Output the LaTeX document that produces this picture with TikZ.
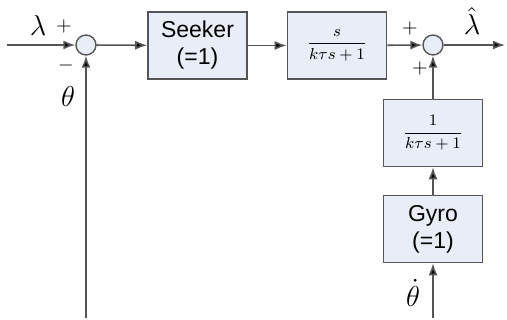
\documentclass[tikz,border=0pt]{standalone}
\usepackage{amsmath}
\usepackage{fontspec}
\newfontfamily\arialf{Liberation Sans}
\usetikzlibrary{arrows.meta}
\definecolor{boxfill}{RGB}{232,237,248}
\definecolor{linec}{RGB}{85,85,85}
\tikzset{
  blk/.style={draw=linec, fill=boxfill, line width=0.8pt, minimum width=49.5pt, minimum height=33.5pt, inner sep=0pt, align=center, font=\arialf\fontsize{11.5}{13.5}\selectfont},
  fracblk/.style={blk, font=\fontsize{8.5}{10}\selectfont},
  sumc/.style={draw=linec, fill=boxfill, circle, line width=0.7pt, minimum size=10pt, inner sep=0pt},
  sig/.style={draw=linec, line width=0.8pt, -{Latex[length=6pt,width=4.5pt,fill=black]}},
  lbl/.style={inner sep=0pt, font=\fontsize{13.5}{15}\selectfont},
  sgn/.style={inner sep=0pt, font=\fontsize{10}{12}\selectfont}
}
\begin{document}
\begin{tikzpicture}[x=0.5pt,y=-0.5pt]
\useasboundingbox (0,0) rectangle (507,320);
\node[sumc] (s1) at (86,45) {};
\node[blk] (seek) at (197.5,45.5) {Seeker\\(=1)};
\node[fracblk] (hp) at (337,45.5) {$\dfrac{s}{k\tau s+1}$};
\node[sumc] (s2) at (433,45) {};
\node[fracblk] (lp) at (433,133) {$\dfrac{1}{k\tau s+1}$};
\node[blk] (gyro) at (433,229) {Gyro\\(=1)};
\coordinate (in) at (7,45);
\coordinate (thb) at (86,318);
\coordinate (out) at (505,45);
\coordinate (tdb) at (433,318);
\draw[sig] (in) -- (s1);
\draw[sig] (thb) -- (s1);
\draw[sig] (s1) -- (seek);
\draw[sig] (seek) -- (hp);
\draw[sig] (hp) -- (s2);
\draw[sig] (s2) -- (out);
\draw[sig] (lp) -- (s2);
\draw[sig] (gyro) -- (lp);
\draw[sig] (tdb) -- (gyro);
\node[lbl] (lam) at (38,26) {$\lambda$};
\node[sgn] (p1) at (64,27) {$+$};
\node[sgn] (m1) at (66,66) {$-$};
\node[lbl] (th) at (68,97) {$\theta$};
\node[sgn] (p2) at (410,29) {$+$};
\node[sgn] (p3) at (420,69) {$+$};
\node[lbl] (lamh) at (472,21) {$\hat{\lambda}$};
\node[lbl] (thd) at (413,293) {$\dot{\theta}$};
\end{tikzpicture}
\end{document}
